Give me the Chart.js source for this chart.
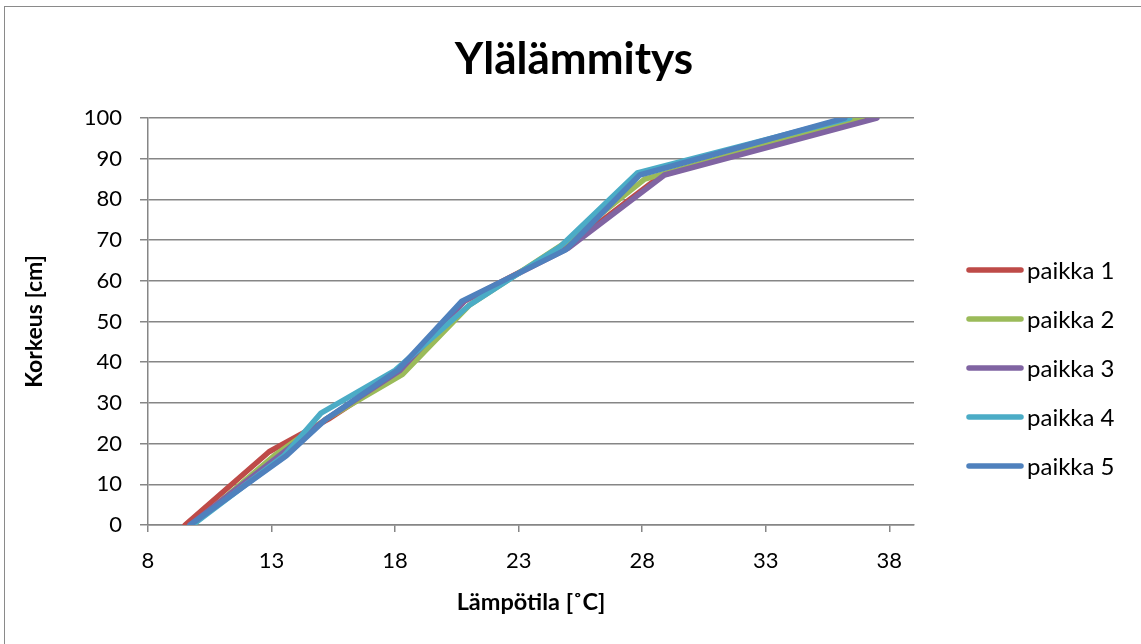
<!DOCTYPE html>
<html>
<head>
<meta charset="utf-8">
<script src="https://cdn.jsdelivr.net/npm/chart.js@4/dist/chart.umd.min.js"></script>
<style>
  html, body { margin: 0; padding: 0; background: #fff; }
  #wrap { position: relative; width: 1141px; height: 644px; overflow: hidden; }
  #frame { position: absolute; left: 4px; top: 6px; width: 2000px; height: 2000px; border: 1.5px solid #8a8a8a; box-sizing: border-box; }
  canvas { position: absolute; left: 0; top: 0; }
</style>
</head>
<body>
<div id="wrap">
  <div id="frame"></div>
  <canvas id="chart" width="1141" height="644"></canvas>
</div>
<script>
// Temperature (°C) measured at each height (cm) for five locations
const chartTitle = 'Ylälämmitys';
const seriesNames = ['paikka 1', 'paikka 2', 'paikka 3', 'paikka 4', 'paikka 5'];
const seriesColors = ['#BE4B48', '#9BBB59', '#8064A2', '#4BACC6', '#4F81BD'];

const temp1 = [9.5, 12.9, 15.3, 18.3, 20.8, 24.9, 28.8, 37.2];
const height1 = [0, 18, 26, 38, 55, 68, 86, 100];
const temp2 = [9.8, 13.1, 15.2, 18.3, 21.0, 24.8, 28.1, 36.9];
const height2 = [0, 17, 26, 37, 54, 69, 85, 100];
const temp3 = [9.7, 13.3, 15.2, 18.2, 20.8, 25.0, 28.9, 37.5];
const height3 = [0, 17, 26, 38, 55, 68, 86, 100];
const temp4 = [9.8, 13.5, 15.0, 18.0, 21.0, 24.7, 27.8, 36.4];
const height4 = [0, 17, 27.5, 38, 54, 68.5, 86.5, 100];
const temp5 = [9.7, 13.6, 15.2, 18.1, 20.7, 24.9, 27.9, 36.2];
const height5 = [0, 17, 26, 38, 55, 67.6, 86, 100];

const xTicks = [8, 13, 18, 23, 28, 33, 38];
const yTicks = [0, 10, 20, 30, 40, 50, 60, 70, 80, 90, 100];

const temps = [temp1, temp2, temp3, temp4, temp5];
const heights = [height1, height2, height3, height4, height5];

const FONT = 'Lato, "Open Sans", sans-serif';
const GRID = '#868686';

const datasets = seriesNames.map((name, i) => ({
  label: name,
  data: temps[i].map((t, k) => ({ x: t, y: heights[i][k] })),
  borderColor: seriesColors[i],
  backgroundColor: seriesColors[i],
  borderWidth: 5.5,
  borderCapStyle: 'round',
  borderJoinStyle: 'round',
  showLine: true,
  pointRadius: 0,
  pointHoverRadius: 0,
  order: seriesNames.length - 1 - i
}));

// Title centred over the whole chart, legend to the right of the plot
const decorations = {
  id: 'decorations',
  afterDraw(chart) {
    const ctx = chart.ctx;
    ctx.save();
    ctx.fillStyle = '#000';
    ctx.font = 'bold 44px ' + FONT;
    ctx.textAlign = 'center';
    ctx.textBaseline = 'alphabetic';
    ctx.fillText(chartTitle, 574, 74);

    ctx.font = '24px ' + FONT;
    ctx.textBaseline = 'middle';
    ctx.textAlign = 'left';
    seriesNames.forEach((name, i) => {
      const y = 270 + i * 49;
      ctx.strokeStyle = seriesColors[i];
      ctx.lineWidth = 5.5;
      ctx.lineCap = 'round';
      ctx.beginPath();
      ctx.moveTo(969, y);
      ctx.lineTo(1021, y);
      ctx.stroke();
      ctx.fillStyle = '#000';
      ctx.fillText(name, 1027, y + 1);
    });
    ctx.restore();
  }
};

new Chart(document.getElementById('chart'), {
  type: 'scatter',
  data: { datasets },
  plugins: [decorations],
  options: {
    responsive: false,
    animation: false,
    layout: { padding: { left: 0, right: 227, top: 118, bottom: 0 } },
    plugins: {
      legend: { display: false },
      tooltip: { enabled: false },
      title: { display: false }
    },
    scales: {
      x: {
        type: 'linear',
        min: 8,
        max: 39,
        afterFit(scale) { scale.height = 119; },
        afterBuildTicks(scale) { scale.ticks = xTicks.map(v => ({ value: v })); },
        ticks: { color: '#000', font: { family: FONT, size: 22 }, padding: 16, maxRotation: 0, autoSkip: false },
        grid: { drawOnChartArea: false, drawTicks: true, tickLength: 7, color: GRID, lineWidth: 1.5 },
        border: { color: GRID, width: 1.5 },
        title: {
          display: true,
          text: 'Lämpötila [˚C]',
          color: '#000',
          font: { family: FONT, size: 23.5, weight: 'bold', lineHeight: 1.2 },
          padding: { top: 0, bottom: 27 }
        }
      },
      y: {
        type: 'linear',
        min: 0,
        max: 100,
        afterFit(scale) { scale.width = 148; },
        afterBuildTicks(scale) { scale.ticks = yTicks.map(v => ({ value: v })); },
        ticks: { color: '#000', font: { family: FONT, size: 22 }, padding: 18 },
        grid: { drawOnChartArea: true, drawTicks: true, tickLength: 8, color: GRID, lineWidth: 1.5 },
        border: { color: GRID, width: 1.5 },
        title: {
          display: true,
          text: 'Korkeus [cm]',
          color: '#000',
          font: { family: FONT, size: 23, weight: 'bold', lineHeight: 1.2 },
          padding: { top: 21, bottom: 0 }
        }
      }
    }
  }
});
</script>
</body>
</html>
